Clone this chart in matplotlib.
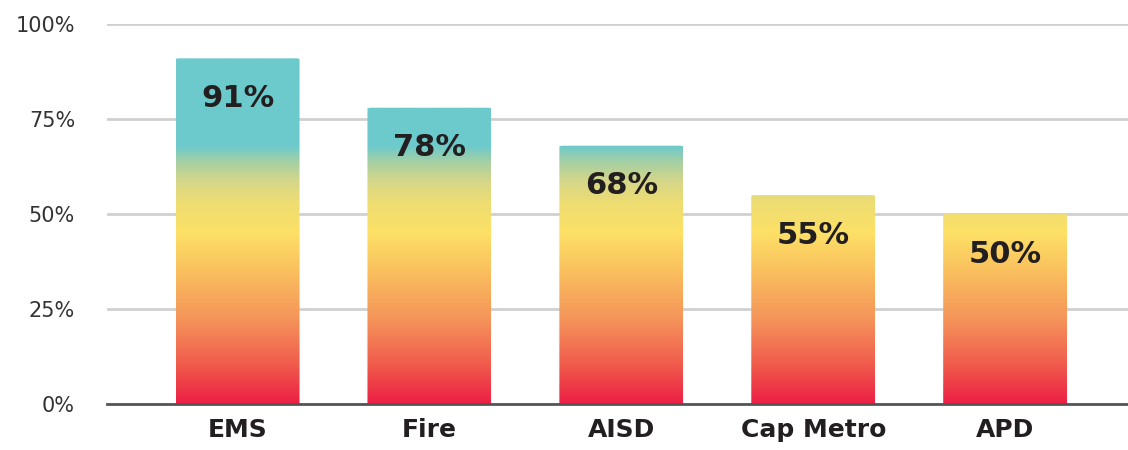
import numpy as np
import matplotlib.pyplot as plt
from matplotlib.colors import LinearSegmentedColormap
from matplotlib.patches import FancyBboxPatch

# dane
kategorie = ['EMS', 'Fire', 'AISD', 'Cap Metro', 'APD']
wartosci = [91, 78, 68, 55, 50]
etykiety = ['91%', '78%', '68%', '55%', '50%']
ticki_y = [0, 25, 50, 75, 100]
ticki_y_txt = ['0%', '25%', '50%', '75%', '100%']

# gradient w przestrzeni danych (0 -> 100%)
gradient = LinearSegmentedColormap.from_list('grad', [
    (0.00, '#EC1F44'),
    (0.10, '#F05A4C'),
    (0.22, '#F5935A'),
    (0.35, '#FAC05E'),
    (0.45, '#FDE066'),
    (0.53, '#EEDD72'),
    (0.59, '#D3D68A'),
    (0.64, '#A2CFA6'),
    (0.68, '#6CCACC'),
    (1.00, '#6CCACC'),
])

fig = plt.figure(figsize=(11.28, 4.5), dpi=100)
ax = fig.add_axes([0.0949, 0.102, 0.9051, 0.8444])

x = np.arange(len(kategorie))
szer = 0.646
bars = ax.bar(x, wartosci, width=szer, color='none', zorder=3)

grad = np.linspace(0, 1, 512).reshape(-1, 1)
for b, v in zip(bars, wartosci):
    x0 = b.get_x()
    ksztalt = FancyBboxPatch((x0, -5), szer, v + 5,
                             boxstyle='round,pad=0,rounding_size=0.02',
                             mutation_aspect=12,
                             facecolor='none', edgecolor='none',
                             transform=ax.transData)
    ax.add_patch(ksztalt)
    im = ax.imshow(grad, cmap=gradient, origin='lower', aspect='auto',
                   extent=[x0, x0 + szer, 0, 100], zorder=3,
                   interpolation='bilinear')
    im.set_clip_path(ksztalt)

for xi, v, t in zip(x, wartosci, etykiety):
    ax.text(xi, v - 10.5, t, ha='center', va='center', fontsize=22,
            fontweight='bold', color='#231F20', zorder=5)

ax.set_xlim(-0.68, 4.64)
ax.set_ylim(0, 100)
ax.set_yticks(ticki_y)
ax.set_yticklabels(ticki_y_txt, fontsize=15, color='#333333')
ax.set_xticks(x)
ax.set_xticklabels(kategorie, fontsize=18, fontweight='bold', color='#231F20')
ax.tick_params(axis='y', length=0, pad=23)
ax.tick_params(axis='x', length=0, pad=10)
ax.grid(axis='y', color='#D0D0D0', linewidth=2, zorder=0)
ax.set_axisbelow(True)
for s in ['top', 'right', 'left']:
    ax.spines[s].set_visible(False)
ax.spines['bottom'].set_color('#555555')
ax.spines['bottom'].set_linewidth(2)
ax.spines['bottom'].set_zorder(6)

plt.savefig('out.png', dpi=100)
